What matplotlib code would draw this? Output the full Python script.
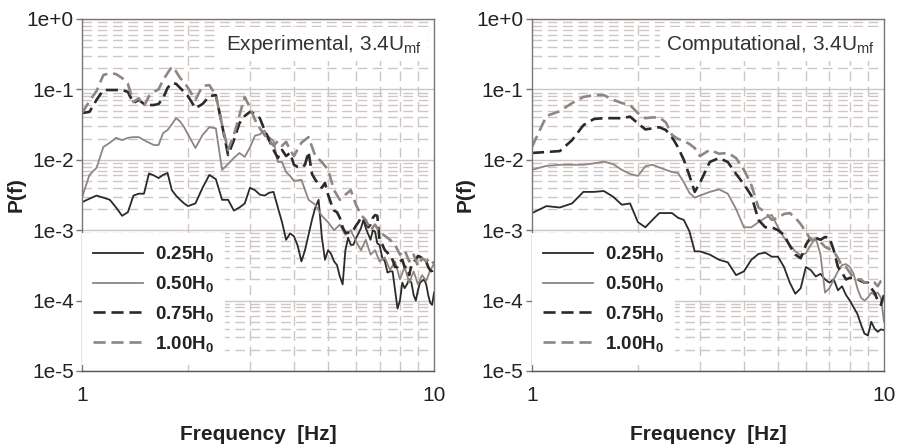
import numpy as np
import matplotlib
matplotlib.use("Agg")
import matplotlib.pyplot as plt
from matplotlib.ticker import FixedLocator, LogLocator, NullFormatter, FuncFormatter

plt.rcParams['font.family'] = ['Liberation Sans', 'DejaVu Sans']
plt.rcParams['mathtext.fontset'] = 'custom'
plt.rcParams['mathtext.rm'] = 'Liberation Sans'
plt.rcParams['mathtext.bf'] = 'Liberation Sans:bold'
plt.rcParams['mathtext.it'] = 'Liberation Sans:italic'

# --- experimental power spectra, 3.4 Umf ---
freq_exp = [1.00, 1.05, 1.10, 1.15, 1.20, 1.25, 1.30, 1.35, 1.40, 1.45,
            1.50, 1.55, 1.60, 1.65, 1.70, 1.75, 1.80, 1.85, 1.90, 1.95,
            2.00, 2.10, 2.20, 2.30, 2.40, 2.50, 2.60, 2.70, 2.80, 2.90,
            3.00, 3.10, 3.20, 3.30, 3.40, 3.50, 3.60, 3.70, 3.80, 3.90,
            4.00, 4.20, 4.40, 4.60, 4.80, 5.00, 5.20, 5.40, 5.60, 5.80,
            6.00, 6.20, 6.40, 6.60, 6.80,
            7.00, 7.25, 7.50, 7.75, 8.00, 8.25, 8.50, 8.75, 9.00, 9.25, 9.50, 9.75,
            10.0]

# finer resolution above 4 Hz for the two dark traces
freq_exp_fine = [1.00, 1.05, 1.10, 1.15, 1.20, 1.25, 1.30, 1.35, 1.40, 1.45,
                 1.50, 1.55, 1.60, 1.65, 1.70, 1.75, 1.80, 1.85, 1.90, 1.95,
                 2.00, 2.10, 2.20, 2.30, 2.40, 2.50, 2.60, 2.70, 2.80, 2.90,
                 3.00, 3.10, 3.20, 3.30, 3.40, 3.50, 3.60, 3.70, 3.80, 3.90,
                 4.0, 4.1, 4.2, 4.3, 4.4, 4.5, 4.6, 4.7, 4.8, 4.9,
                 5.0, 5.1, 5.2, 5.3, 5.4, 5.5, 5.6, 5.7, 5.8, 5.9,
                 6.0, 6.1, 6.2, 6.3, 6.4, 6.5, 6.6, 6.7, 6.8, 6.9,
                 7.0, 7.125, 7.25, 7.375, 7.5, 7.625, 7.75, 7.875,
                 8.0, 8.125, 8.25, 8.375, 8.5, 8.625, 8.75, 8.875,
                 9.0, 9.125, 9.25, 9.375, 9.5, 9.625, 9.75, 9.875, 10.0]

exp_025 = [0.0025, 0.0028, 0.0031, 0.0029, 0.0027, 0.0021, 0.0016, 0.0018, 0.0031, 0.0033,
           0.0033, 0.0064, 0.0060, 0.0055, 0.0061, 0.0065, 0.0037, 0.0031, 0.0027, 0.0024,
           0.0022, 0.0024, 0.0040, 0.0061, 0.0053, 0.0027, 0.0027, 0.0019, 0.0021, 0.0024,
           0.0040, 0.0037, 0.0032, 0.0031, 0.0034, 0.0035, 0.0021, 0.0013, 0.00073, 0.00090,
           0.00082, 0.00060, 0.00036, 0.00052, 0.00086, 0.0014, 0.0021, 0.0027, 0.00080, 0.00038,
           0.00052, 0.00046, 0.00036, 0.00032, 0.00022, 0.00017, 0.00052, 0.00078, 0.00062, 0.00062,
           0.00077, 0.00090, 0.00107, 0.0014, 0.00107, 0.00088, 0.00073, 0.0010, 0.00095, 0.00065,
           0.00062, 0.00041, 0.00036, 0.00025, 0.00026, 0.00026, 0.00014, 0.000077,
           0.00010, 0.00018, 0.00015, 0.00017, 0.00020, 0.00018, 0.00012, 0.00010,
           0.00014, 0.00018, 0.00019, 0.00020, 0.00017, 0.00012, 0.000093, 0.000087, 0.00013]

exp_050 = [0.0029, 0.0061, 0.0077, 0.0152, 0.0175, 0.0205, 0.019, 0.0205, 0.021, 0.021,
           0.019, 0.0175, 0.0162, 0.0162, 0.024, 0.0265, 0.032, 0.039, 0.035, 0.029,
           0.023, 0.0147, 0.0225, 0.029, 0.028, 0.0072, 0.0087, 0.0106, 0.0125, 0.011,
           0.015, 0.022, 0.023, 0.026, 0.021, 0.0185, 0.0093, 0.0093, 0.0067, 0.0059,
           0.0050, 0.0052, 0.0027, 0.0023, 0.0016, 0.0013, 0.0010, 0.0012, 0.00086, 0.0010,
           0.00070, 0.00052, 0.00073, 0.00045, 0.00052,
           0.00036, 0.00041, 0.00027, 0.00036, 0.00020, 0.00030, 0.00018, 0.00026, 0.00017, 0.00023, 0.00019, 0.00027,
           0.00033]

exp_075 = [0.046, 0.048, 0.071, 0.098, 0.098, 0.098, 0.098, 0.092, 0.064, 0.071,
           0.062, 0.060, 0.060, 0.062, 0.075, 0.105, 0.123, 0.120, 0.105, 0.092,
           0.080, 0.054, 0.062, 0.080, 0.083, 0.031, 0.0117, 0.019, 0.033, 0.042,
           0.048, 0.045, 0.039, 0.0265, 0.019, 0.0138, 0.0106, 0.0138, 0.0113, 0.0125,
           0.0085, 0.0079, 0.0077, 0.0085, 0.013, 0.0063, 0.0052, 0.0045, 0.0040, 0.0047,
           0.0032, 0.0024, 0.0019, 0.0018, 0.0015, 0.0011, 0.00092, 0.00092, 0.0010, 0.0010,
           0.00116, 0.0013, 0.0015, 0.0014, 0.0013, 0.0011, 0.0012, 0.0015, 0.00164, 0.0016,
           0.00073, 0.00063, 0.00052, 0.00048, 0.00040, 0.00038, 0.00030, 0.00030,
           0.00036, 0.00038, 0.00030, 0.00030, 0.00023, 0.00032, 0.00036, 0.00038,
           0.00043, 0.00042, 0.00040, 0.00040, 0.00036, 0.00030, 0.00027, 0.00026, 0.00022]

exp_100 = [0.046, 0.068, 0.095, 0.16, 0.17, 0.165, 0.145, 0.12, 0.066, 0.075,
           0.058, 0.080, 0.092, 0.100, 0.136, 0.17, 0.21, 0.18, 0.145, 0.128,
           0.105, 0.071, 0.112, 0.115, 0.083, 0.031, 0.0138, 0.0225, 0.043, 0.078,
           0.055, 0.037, 0.028, 0.0225, 0.019, 0.0158, 0.0185, 0.0158, 0.018, 0.0138,
           0.0113, 0.0175, 0.021, 0.0113, 0.0093, 0.0072, 0.0037, 0.0027, 0.0032, 0.0037,
           0.0023, 0.00164, 0.0014, 0.0010, 0.0012,
           0.00095, 0.00083, 0.00073, 0.00062, 0.00045, 0.00052, 0.00036, 0.00045, 0.00031, 0.00040, 0.00036, 0.00040,
           0.00033]

# --- computational power spectra, 3.4 Umf ---
freq_cfd = [1.0, 1.1, 1.2, 1.3, 1.4, 1.5, 1.6, 1.7, 1.8, 1.9,
            2.0, 2.1, 2.2, 2.3, 2.4, 2.5, 2.6, 2.7, 2.8, 2.9, 3.0,
            3.2, 3.4, 3.6, 3.8, 4.0, 4.2, 4.4, 4.6, 4.8, 5.0,
            5.2, 5.4, 5.6, 5.8, 6.0, 6.2, 6.4, 6.6, 6.8, 7.0,
            7.2, 7.4, 7.6, 7.8, 8.0, 8.2, 8.4, 8.6, 8.8, 9.0,
            9.2, 9.4, 9.6, 9.8, 10.0]

cfd_025 = [0.00175, 0.0022, 0.0021, 0.0024, 0.0035, 0.0035, 0.0036, 0.0030, 0.0023, 0.0024,
           0.0013, 0.0011, 0.0014, 0.00175, 0.00175, 0.00175, 0.0015, 0.0014, 0.00097, 0.00050, 0.00050,
           0.00045, 0.00038, 0.00035, 0.00023, 0.00026, 0.00038, 0.00046, 0.00048, 0.00042, 0.00042,
           0.00030, 0.00018, 0.000125, 0.00015, 0.00030, 0.00027, 0.00022, 0.00024, 0.00020, 0.00018,
           0.00020, 0.00014, 0.00016, 0.00012, 0.00010, 0.000080, 0.000065, 0.000046, 0.000034, 0.000032,
           0.000050, 0.000040, 0.000036, 0.000039, 0.000038]

cfd_050 = [0.0072, 0.0082, 0.0085, 0.0085, 0.0085, 0.0089, 0.0094, 0.0087, 0.0072, 0.0063,
           0.0059, 0.0081, 0.0085, 0.0078, 0.0072, 0.0067, 0.0065, 0.0048, 0.0034, 0.0029, 0.0031,
           0.0035, 0.0038, 0.0033, 0.0020, 0.0011, 0.0011, 0.0013, 0.0015, 0.00165, 0.0011,
           0.00078, 0.00062, 0.00050, 0.00044, 0.00047, 0.00062, 0.00078, 0.00045, 0.00013, 0.00015,
           0.00020, 0.00026, 0.00032, 0.00033, 0.00030, 0.00024, 0.00015, 0.00011, 0.00010, 0.00011,
           0.00013, 0.00012, 0.00013, 0.00011, 0.000050]

cfd_075 = [0.0125, 0.0129, 0.0133, 0.019, 0.031, 0.038, 0.039, 0.039, 0.039, 0.041,
           0.033, 0.027, 0.028, 0.029, 0.0265, 0.021, 0.015, 0.010, 0.0060, 0.0035, 0.0047,
           0.0093, 0.0106, 0.0093, 0.0063, 0.0045, 0.0031, 0.0014, 0.0011, 0.0011, 0.0010,
           0.00086, 0.00060, 0.00045, 0.00040, 0.00062, 0.00080, 0.00078, 0.00073, 0.00080, 0.00078,
           0.00052, 0.00030, 0.00025, 0.00020, 0.00021, 0.00021, 0.00020, 0.00019, 0.00018, 0.00018,
           0.00015, 0.00013, 0.00010, 0.000087, 0.00012]

cfd_100 = [0.0152, 0.042, 0.049, 0.064, 0.078, 0.083, 0.083, 0.071, 0.064, 0.060,
           0.046, 0.039, 0.040, 0.040, 0.034, 0.0225, 0.0198, 0.0185, 0.0168, 0.0147, 0.0113,
           0.0138, 0.0122, 0.0125, 0.0106, 0.0072, 0.0044, 0.0021, 0.0018, 0.0014, 0.0015,
           0.0017, 0.00175, 0.0015, 0.00122, 0.00094, 0.00073, 0.00073, 0.00068, 0.00058, 0.00054,
           0.00050, 0.00040, 0.00031, 0.00030, 0.00025, 0.00021, 0.00020, 0.00020, 0.00018, 0.00018,
           0.00018, 0.00018, 0.00016, 0.00019, 0.00020]

heights = ['0.25', '0.50', '0.75', '1.00']

DARK = '#2a2a2a'
GREY = '#8f8582'
GRID = '#cdc6c3'
line_styles = [
    dict(color=DARK, lw=1.3, linestyle='-'),
    dict(color=GREY, lw=1.3, linestyle='-'),
    dict(color=DARK, lw=1.9, dashes=(4.6, 2.2)),
    dict(color=GREY, lw=1.9, dashes=(4.6, 2.2)),
]


def log_label(v, pos):
    return f"1e{int(round(np.log10(v))):+d}"


def style_axes(ax, note, note_x):
    ax.set_xscale('log')
    ax.set_yscale('log')
    ax.set_xlim(1, 10)
    ax.set_ylim(1e-5, 1)

    ax.xaxis.set_major_locator(FixedLocator([1, 10]))
    ax.xaxis.set_minor_locator(FixedLocator(list(range(2, 10))))
    ax.xaxis.set_major_formatter(FuncFormatter(lambda v, p: f"{v:g}"))
    ax.xaxis.set_minor_formatter(NullFormatter())
    ax.yaxis.set_major_locator(LogLocator(base=10, numticks=10))
    ax.yaxis.set_minor_locator(LogLocator(base=10, subs=np.arange(2, 10), numticks=10))
    ax.yaxis.set_major_formatter(FuncFormatter(log_label))
    ax.yaxis.set_minor_formatter(NullFormatter())

    ax.grid(which='major', axis='y', color=GRID, lw=1.0, linestyle='-')
    ax.grid(which='minor', axis='both', color=GRID, lw=1.0, linestyle=(0, (7, 4)))
    ax.set_axisbelow(True)

    ax.tick_params(axis='y', which='major', length=4, width=1, color='#777777',
                   labelsize=15, pad=2, labelcolor='#222222')
    ax.tick_params(axis='x', which='major', length=0, labelsize=15, pad=11,
                   labelcolor='#222222')
    ax.tick_params(which='minor', length=0)
    for s in ax.spines.values():
        s.set_color('#777777')
        s.set_linewidth(1.0)
    ax.spines['bottom'].set_color('#555555')

    ax.set_xlabel('Frequency  [Hz]', fontsize=15, fontweight='bold', labelpad=14,
                  color='#222222')
    ax.set_ylabel('P(f)', fontsize=15, fontweight='bold', labelpad=1, color='#222222')

    ax.text(note_x, 0.928, note, transform=ax.transAxes, ha='right', va='center',
            fontsize=15, color='#333333', zorder=4,
            bbox=dict(facecolor='white', edgecolor='none', pad=4))

    leg = ax.legend(loc='lower left', bbox_to_anchor=(0.0, 0.017),
                    prop=dict(weight='bold', size=13.5), frameon=True, fancybox=False,
                    facecolor='white', edgecolor='none', framealpha=1,
                    handlelength=2.67, handletextpad=0.64, labelspacing=0.53,
                    borderpad=0.59, borderaxespad=0.0)
    for t in leg.get_texts():
        t.set_color('#222222')


fig, (ax1, ax2) = plt.subplots(1, 2, figsize=(8.98, 4.48), dpi=100)
fig.subplots_adjust(left=0.0913, right=0.9844, bottom=0.1719, top=0.9576, wspace=0.278)

exp_freqs = [freq_exp_fine, freq_exp, freq_exp_fine, freq_exp]
exp_series = [exp_025, exp_050, exp_075, exp_100]
cfd_series = [cfd_025, cfd_050, cfd_075, cfd_100]

for h, f, vals, st in zip(heights, exp_freqs, exp_series, line_styles):
    ax1.plot(f, vals, label=f"{h}H$_\\mathbf{{0}}$", **st)
for h, vals, st in zip(heights, cfd_series, line_styles):
    ax2.plot(freq_cfd, vals, label=f"{h}H$_\\mathbf{{0}}$", **st)

style_axes(ax1, 'Experimental, 3.4U$_\\mathrm{mf}$', 0.966)
style_axes(ax2, 'Computational, 3.4U$_\\mathrm{mf}$', 0.974)

fig.savefig('out.png', dpi=100)
